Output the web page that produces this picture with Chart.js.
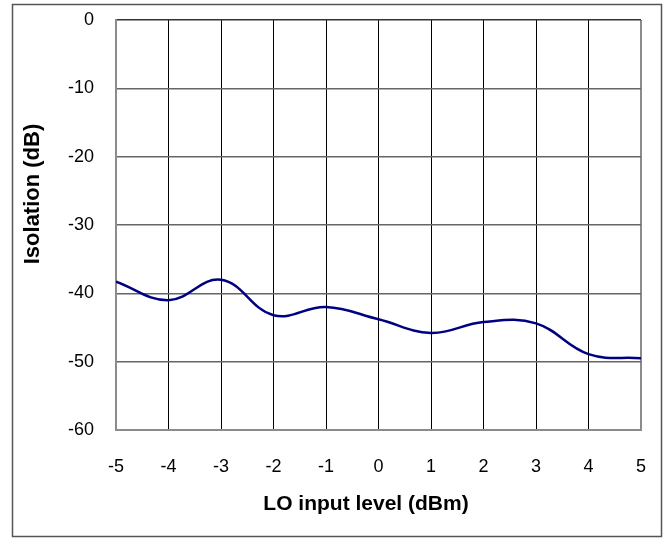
<!DOCTYPE html>
<html>
<head>
<meta charset="utf-8">
<script src="https://cdn.jsdelivr.net/npm/chart.js@4/dist/chart.umd.min.js"></script>
<style>
  html, body { margin: 0; padding: 0; background: #fff; }
  canvas { display: block; }
</style>
</head>
<body>
<canvas id="isolation-chart" width="667" height="540"></canvas>
<script>
// data
var loLevels = [-5, -4, -3, -2, -1, 0, 1, 2, 3, 4, 5];
var isolationDb = [-38.3, -41.0, -38.0, -43.2, -42.0, -43.8, -45.8, -44.2, -44.4, -48.9, -49.5];
var yTicks = [0, -10, -20, -30, -40, -50, -60];
var xTitle = 'LO input level (dBm)';
var yTitle = 'Isolation (dB)';

var fontFamily = "'Liberation Sans', Arial, sans-serif";

// frame round the whole picture + axis titles (Excel puts them off-centre)
var frameBorder = {
    id: 'frameBorder',
    afterDraw: function (chart) {
        var ctx = chart.ctx;
        ctx.save();
        ctx.strokeStyle = '#555';
        ctx.lineWidth = 1.5;
        ctx.strokeRect(12.5, 4.5, 649, 532);

        ctx.fillStyle = '#000';
        ctx.textAlign = 'center';
        ctx.textBaseline = 'middle';
        ctx.font = 'bold 21px ' + fontFamily;
        ctx.fillText(xTitle, 366, 504);

        ctx.translate(33, 194);
        ctx.rotate(-Math.PI / 2);
        ctx.font = 'bold 22px ' + fontFamily;
        ctx.fillText(yTitle, 0, 0);
        ctx.restore();
    }
};

function BuildIsolationChart() {
    var points = [];
    for (var i = 0; i < loLevels.length; i++) {
        points.push({ x: loLevels[i], y: isolationDb[i] });
    }

    var ctx = document.getElementById('isolation-chart');
    return new Chart(ctx, {
        type: 'line',
        data: {
            datasets: [{
                data: points,
                borderColor: '#000080',
                borderWidth: 2.5,
                pointRadius: 0,
                tension: 0.4,
                fill: false
            }]
        },
        options: {
            responsive: false,
            animation: false,
            layout: { padding: { left: 0, top: 20, right: 26, bottom: 0 } },
            plugins: {
                legend: { display: false },
                tooltip: { enabled: false }
            },
            scales: {
                x: {
                    type: 'linear',
                    min: -5,
                    max: 5,
                    afterFit: function (scale) {
                        scale.height = 110;
                        scale.paddingLeft = 0;
                        scale.paddingRight = 0;
                    },
                    ticks: {
                        stepSize: 1,
                        padding: 26,
                        color: '#000',
                        font: { family: fontFamily, size: 18 }
                    },
                    grid: {
                        drawTicks: false,
                        color: function (c) { return c.tick && c.tick.value === 5 ? '#8c8c8c' : '#000'; },
                        lineWidth: function (c) { return c.tick && c.tick.value === 5 ? 2 : 1; }
                    },
                    border: { color: '#8c8c8c', width: 2 }
                },
                y: {
                    min: -60,
                    max: 0,
                    afterFit: function (scale) {
                        scale.width = 116;
                        scale.paddingTop = 0;
                        scale.paddingBottom = 0;
                    },
                    afterBuildTicks: function (scale) {
                        scale.ticks = yTicks.map(function (v) { return { value: v }; });
                    },
                    ticks: {
                        padding: 22,
                        color: '#000',
                        font: { family: fontFamily, size: 18 }
                    },
                    grid: {
                        drawTicks: false,
                        color: function (c) { return c.tick && c.tick.value === 0 ? '#333' : '#666'; },
                        lineWidth: 1.5
                    },
                    border: { color: '#8c8c8c', width: 2 }
                }
            }
        },
        plugins: [frameBorder]
    });
}

BuildIsolationChart();
</script>
</body>
</html>
